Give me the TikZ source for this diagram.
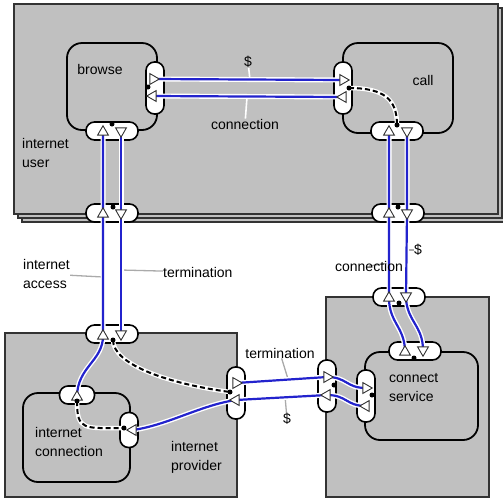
\documentclass[tikz,border=0pt]{standalone}
\usepackage{fontspec}
\setmainfont{Liberation Sans}
\usetikzlibrary{shapes.geometric}
\definecolor{boxgray}{RGB}{192,192,192}
\definecolor{flowblue}{RGB}{35,35,205}
\definecolor{tickgray}{RGB}{170,170,170}
\pgfdeclarelayer{flowlayer}
\pgfdeclarelayer{front}
\pgfsetlayers{main,flowlayer,front}
\tikzset{
  userbox/.style={draw=black!80, fill=boxgray, line width=1.9pt},
  procbox/.style={draw=black, fill=boxgray, line width=1.8pt, rounded corners=15pt},
  hport/.style={draw=black, fill=white, line width=1.6pt, rounded corners=8.5pt, minimum width=52pt, minimum height=18pt, inner sep=0pt},
  vport/.style={hport, minimum width=18pt, minimum height=52pt},
  tri/.style={regular polygon, regular polygon sides=3, draw=black!80, fill=white, line width=0.9pt, minimum size=12.5pt, inner sep=0pt},
  tup/.style={tri}, tdown/.style={tri, rotate=180},
  tright/.style={tri, rotate=-90}, tleft/.style={tri, rotate=90},
  flow/.style={draw=flowblue, line width=2.2pt, preaction={draw=white, line width=5pt}},
  hidden/.style={draw=black, line width=2pt, dash pattern=on 5pt off 3pt, preaction={draw=white, solid, line width=4.5pt}},
  pin/.style={circle, fill=black, inner sep=0pt, minimum size=5pt},
  lbl/.style={inner sep=0pt, align=left},
  tick/.style={draw=tickgray, line width=1.3pt},
  wtick/.style={draw=white, line width=1.6pt},
}
\begin{document}
\begin{tikzpicture}[x=1pt, y=-1pt, font=\fontsize{14}{19}\selectfont]
\useasboundingbox (0,0) rectangle (503,499);
% internet user (stacked)
\foreach \d in {8,4}
  \draw[userbox, line width=1.4pt] (14+\d,4+\d) rectangle (498+\d,214+\d);
\draw[userbox] (14,4) rectangle (498,214);
\node[lbl, anchor=west] (userlbl) at (22,153) {internet\\user};
\draw[procbox] (67,43) rectangle (157,130);
\node[lbl] (browselbl) at (100,69) {browse};
\draw[procbox] (343,43) rectangle (453,133);
\node[lbl] (calllbl) at (423,80) {call};
\node[vport] (brR) at (155,88) {};
\node[hport] (brB) at (112,131) {};
\node[vport] (caL) at (343,88) {};
\node[hport] (caB) at (397,131) {};
\node[hport] (usB) at (112,213) {};
\node[hport] (usC) at (398,213) {};
% internet provider
\draw[userbox] (5,333) rectangle (237,497);
\node[lbl, anchor=west] (provlbl) at (171,457) {internet\\provider};
\draw[procbox] (23,393) rectangle (130,482);
\node[lbl, anchor=west] (iclbl) at (35,442) {internet\\connection};
\node[hport] (prT) at (112,334) {};
\node[vport] (prR) at (236,393) {};
\node[hport, minimum width=35pt] (icT) at (77,395) {};
\node[vport, minimum height=35pt] (icR) at (129,430) {};
% connect service
\draw[userbox] (326,297) rectangle (489,497);
\draw[procbox] (365,352) rectangle (478,440);
\node[lbl, anchor=west] (svlbl) at (389,388) {connect\\service};
\node[hport] (csT) at (399,297) {};
\node[vport] (csL) at (327,386) {};
\node[hport] (svT) at (415,351) {};
\node[vport] (svL) at (366,396) {};

\begin{pgfonlayer}{front}
% direction marks
\foreach \n/\s/\x/\y in {b1/tright/153/79, b2/tleft/153/96, c1/tright/343/80, c2/tleft/343/97,
    a1/tup/77/397, a2/tup/103/336, a3/tup/103/214, a4/tup/103/132,
    d1/tdown/121/131, d2/tdown/121/213, d3/tdown/121/334,
    u1/tup/405/352, u2/tup/389/298, u3/tup/389/214, u4/tup/389/132,
    v1/tdown/407/131, v2/tdown/407/213, v3/tdown/406/296, v4/tdown/423/350,
    p1/tright/236/383, p2/tleft/236/400, p3/tleft/133/430,
    s1/tright/327/377, s2/tleft/327/395, s3/tright/366/388, s4/tleft/366/406}
  \node[\s] (\n) at (\x,\y) {};
% binding points
\foreach \n/\x/\y in {brRp/148/87, brBp/112/124, usBp/113/207, caLp/349/88, caBp/397/125,
    usCp/398/207, prTp/113/340, prRp/230/392, icTp/77/401, icRp/124/428,
    csTp/399/303, csLp/334/385, svTp/414/358, svLp/372/395}
  \node[pin] (\n) at (\x,\y) {};
% labels
\node[lbl] (dollar1) at (248,62) {\$};
\node[lbl] (conn1) at (245,124) {connection};
\node[lbl, anchor=west] (acclbl) at (23,274) {internet\\access};
\node[lbl, anchor=west] (term1) at (163,272) {termination};
\node[lbl] (conn2) at (369,266) {connection};
\node[lbl] (dollar2) at (418,250) {\$};
\node[lbl] (term2) at (280,353) {termination};
\node[lbl] (dollar3) at (287,419) {\$};
\end{pgfonlayer}

\begin{pgfonlayer}{flowlayer}
\coordinate (k1) at (250,80);  \coordinate (k2) at (247,97);
\coordinate (k3) at (103,277); \coordinate (k4) at (121,270);
\coordinate (k5) at (389,263); \coordinate (k6) at (407,250);
\coordinate (k7) at (288,379); \coordinate (k8) at (285,396);
\draw[wtick] (dollar1) -- (k1);
\draw[wtick] (conn1) -- (k2);
\draw[tick] (acclbl) -- (k3);
\draw[tick] (term1) -- (k4);
\draw[tick] (conn2.center) -- (k5);
\draw[tick] (dollar2) -- (k6);
\draw[tick] (term2) -- (k7);
\draw[tick] (dollar3) -- (k8);
% flows
\draw[flow] (b1.center) -- (c1.center);
\draw[flow] (c2.center) -- (b2.center);
\draw[flow] (a1.center) .. controls +(0,-30) and +(0,25) .. (a2.center) -- (a3.center) -- (a4.center);
\draw[flow] (d1.center) -- (d2.center) -- (d3.center);
\draw[flow] (u1.center) .. controls +(0,-25) and +(0,25) .. (u2.center) -- (u3.center) -- (u4.center);
\draw[flow] (v1.center) -- (v2.center) -- (v3.center) .. controls +(0,25) and +(0,-25) .. (v4.center);
\draw[flow] (p1.center) -- (s1.center) .. controls +(20,0) and +(-20,0) .. (s3.center);
\draw[flow] (s4.center) .. controls +(-20,0) and +(20,0) .. (s2.center) -- (p2.center)
  .. controls +(-35,5) and +(35,-5) .. (p3.center);
% internal bindings
\draw[hidden] (caLp.center) .. controls +(36,0) and +(0,-25) .. (caBp.center);
\draw[hidden] (prTp.center) .. controls +(0,25) and +(-60,-8) .. (prRp.center);
\draw[hidden] (icTp.center) .. controls +(0,30) and +(-40,0) .. (icRp.center);
\end{pgfonlayer}
\end{tikzpicture}
\end{document}
